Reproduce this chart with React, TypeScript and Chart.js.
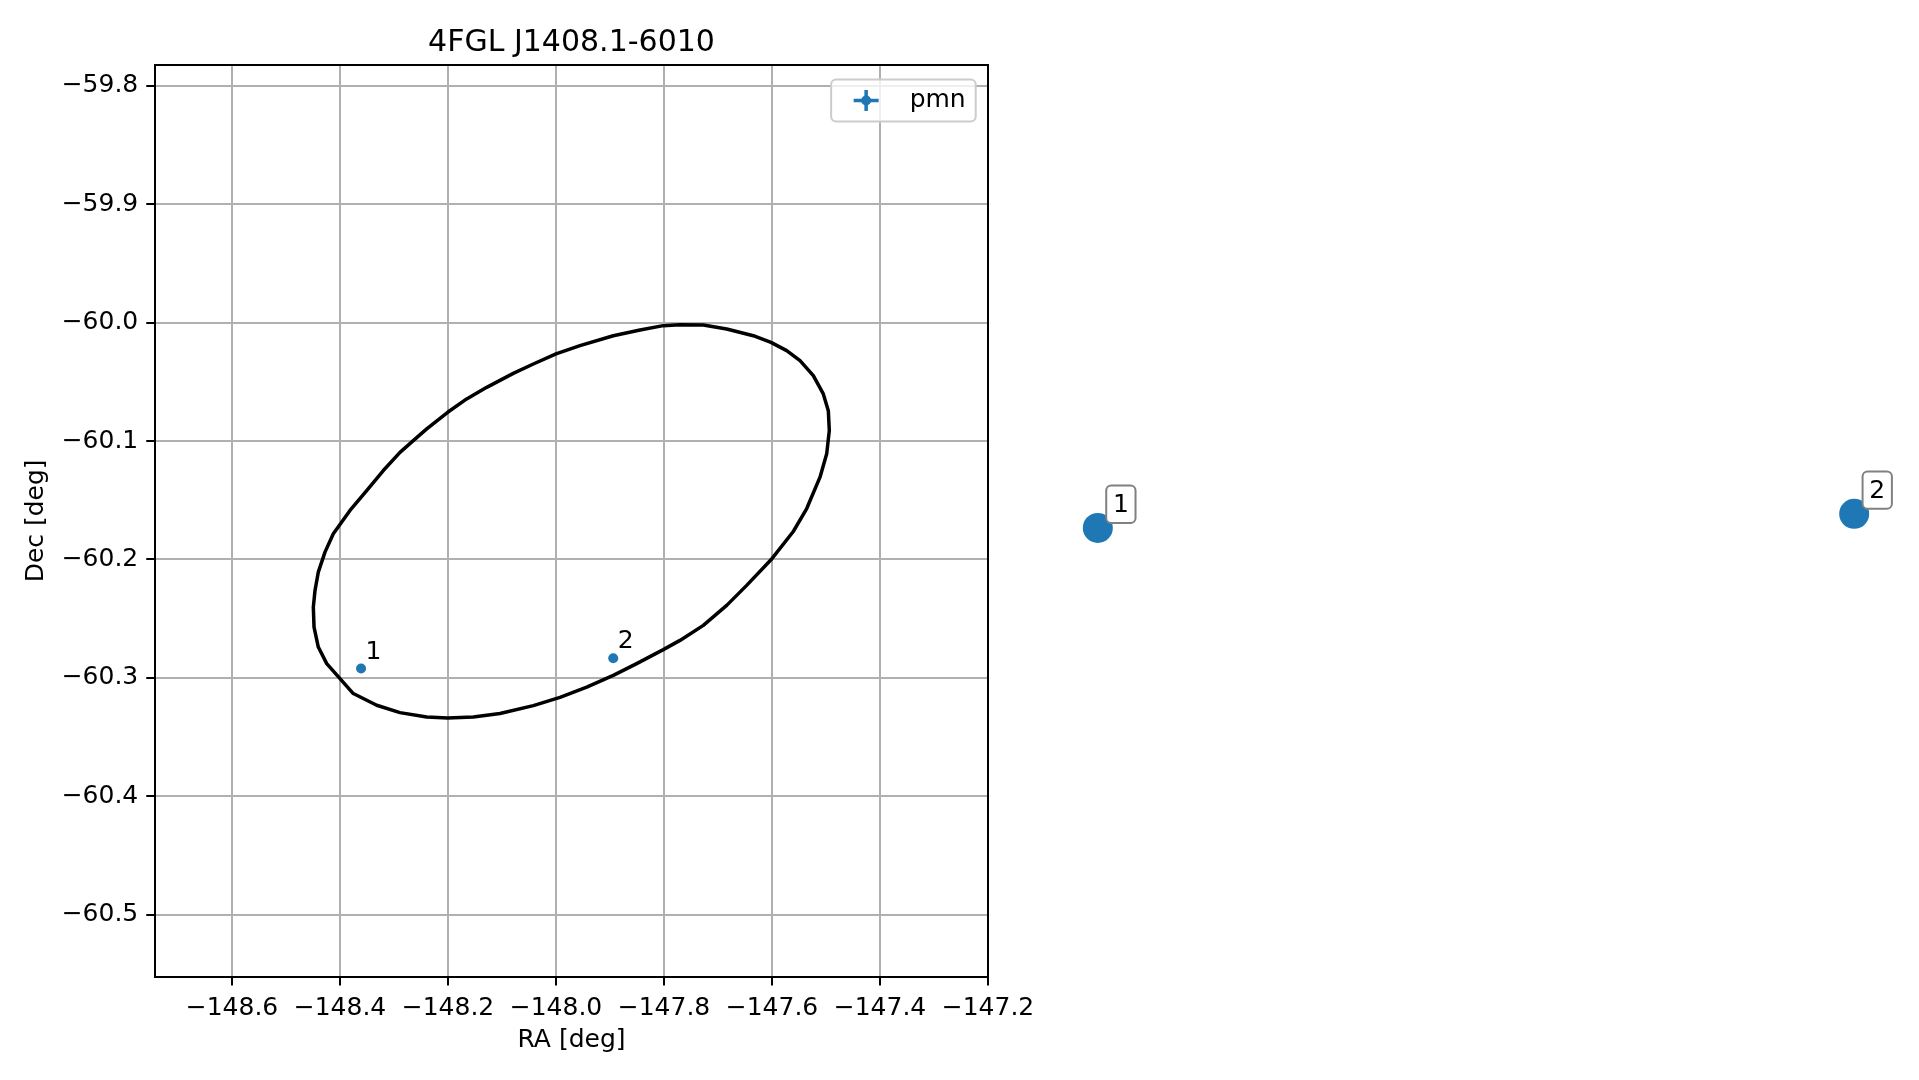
import React, { useEffect, useRef } from 'react';
import { Chart, registerables } from 'chart.js';

Chart.register(...registerables);

// ---------- data ----------
const TITLE = '4FGL J1408.1-6010';
const X_LABEL = 'RA [deg]';
const Y_LABEL = 'Dec [deg]';
const SERIES_LABEL = 'pmn';

const pmnLabels = ['1', '2'];
const pmnRA = [-148.361, -147.894];
const pmnDec = [-60.2922, -60.2835];

const ellipseRA = [
  -148.4494, -148.4463, -148.4402, -148.4278, -148.4124, -148.3815, -148.3506, -148.3198, -148.2889, -148.2643,
  -148.2394, -148.2006, -148.1654, -148.1283, -148.0791, -148.042, -148.0, -147.9556, -147.8939, -147.8444,
  -147.8013, -147.7704, -147.7272, -147.6839, -147.6346, -147.6019, -147.5728, -147.5481, -147.5235, -147.505,
  -147.4957, -147.4939, -147.4987, -147.5111, -147.5357, -147.5606, -147.6019, -147.6469, -147.6839, -147.7272,
  -147.7704, -147.8013, -147.8506, -147.8939, -147.9431, -147.9926, -148.042, -148.1037, -148.1531, -148.2006,
  -148.2394, -148.2889, -148.332, -148.3754, -148.4, -148.4246, -148.4402, -148.4481,
];
const ellipseDec = [
  -60.2403, -60.2262, -60.2107, -60.1938, -60.1783, -60.1586, -60.1418, -60.1249, -60.1095, -60.0996,
  -60.0897, -60.0757, -60.0644, -60.0546, -60.0428, -60.0349, -60.0264, -60.0194, -60.011, -60.0062,
  -60.0025, -60.0017, -60.0019, -60.0053, -60.011, -60.0166, -60.0236, -60.0321, -60.0447, -60.0602,
  -60.0743, -60.0911, -60.1108, -60.1305, -60.157, -60.1764, -60.2003, -60.2219, -60.2388, -60.2557,
  -60.2684, -60.2762, -60.288, -60.2979, -60.3078, -60.3165, -60.3235, -60.3302, -60.3331, -60.3339,
  -60.3331, -60.3294, -60.3232, -60.3133, -60.3007, -60.288, -60.274, -60.2571,
];

const xTickValues = [-148.6, -148.4, -148.2, -148.0, -147.8, -147.6, -147.4, -147.2];
const xTickLabels = ['\u2212148.6', '\u2212148.4', '\u2212148.2', '\u2212148.0', '\u2212147.8', '\u2212147.6', '\u2212147.4', '\u2212147.2'];
const yTickValues = [-59.8, -59.9, -60.0, -60.1, -60.2, -60.3, -60.4, -60.5];
const yTickLabels = ['\u221259.8', '\u221259.9', '\u221260.0', '\u221260.1', '\u221260.2', '\u221260.3', '\u221260.4', '\u221260.5'];

const X_MIN = -148.7426;
const X_MAX = -147.2;
const Y_MIN = -60.5525;
const Y_MAX = -59.7823;

// ---------- styles ----------
const FONT = "'DejaVu Sans', 'Liberation Sans', sans-serif";
const BLUE = '#1f77b4';
const GRID = '#b0b0b0';

function labelFor(values: number[], labels: string[], v: number) {
  let best = 0;
  for (let i = 1; i < values.length; i++) {
    if (Math.abs(values[i] - v) < Math.abs(values[best] - v)) best = i;
  }
  return labels[best];
}

function rrect(ctx: CanvasRenderingContext2D, x: number, y: number, w: number, h: number, r: number) {
  ctx.beginPath();
  ctx.moveTo(x + r, y);
  ctx.lineTo(x + w - r, y);
  ctx.arcTo(x + w, y, x + w, y + r, r);
  ctx.lineTo(x + w, y + h - r);
  ctx.arcTo(x + w, y + h, x + w - r, y + h, r);
  ctx.lineTo(x + r, y + h);
  ctx.arcTo(x, y + h, x, y + h - r, r);
  ctx.lineTo(x, y + r);
  ctx.arcTo(x, y, x + r, y, r);
  ctx.closePath();
}

const pointLabelPlugin = {
  id: 'pointLabels',
  afterDatasetsDraw(chart: any) {
    const ctx = chart.ctx;
    const meta = chart.getDatasetMeta(1);
    ctx.save();
    ctx.font = `25px ${FONT}`;
    ctx.fillStyle = '#000';
    ctx.textAlign = 'left';
    ctx.textBaseline = 'alphabetic';
    meta.data.forEach((el: any, i: number) => {
      ctx.fillText(pmnLabels[i], el.x + 4.4, el.y - 10);
    });
    ctx.restore();
  },
};

const mplLegendPlugin = {
  id: 'mplLegend',
  afterDatasetsDraw(chart: any) {
    const ctx = chart.ctx;
    const ca = chart.chartArea;
    const label = chart.data.datasets[1].label;
    ctx.save();
    ctx.font = `25px ${FONT}`;
    const tw = ctx.measureText(label).width;
    const w = 78.5 + tw + 10;
    const h = 42;
    const x1 = ca.right - 12.3;
    const x0 = x1 - w;
    const y0 = ca.top + 14.5;
    rrect(ctx, x0, y0, w, h, 5);
    ctx.fillStyle = 'rgba(255,255,255,0.8)';
    ctx.fill();
    ctx.strokeStyle = '#cccccc';
    ctx.lineWidth = 2;
    ctx.stroke();
    const mx = x0 + 35;
    const my = y0 + h / 2;
    ctx.strokeStyle = BLUE;
    ctx.lineWidth = 3.5;
    ctx.beginPath();
    ctx.moveTo(mx - 12.5, my);
    ctx.lineTo(mx + 12.5, my);
    ctx.moveTo(mx, my - 10.5);
    ctx.lineTo(mx, my + 10.5);
    ctx.stroke();
    ctx.fillStyle = BLUE;
    ctx.beginPath();
    ctx.arc(mx, my, 5, 0, Math.PI * 2);
    ctx.fill();
    ctx.fillStyle = '#000';
    ctx.textAlign = 'left';
    ctx.textBaseline = 'middle';
    ctx.fillText(label, x0 + 78.5, my);
    ctx.restore();
  },
};

const boxedLabelPlugin = {
  id: 'boxedLabels',
  afterDatasetsDraw(chart: any) {
    const ctx = chart.ctx;
    const meta = chart.getDatasetMeta(0);
    ctx.save();
    ctx.font = `25px ${FONT}`;
    meta.data.forEach((el: any, i: number) => {
      const txt = pmnLabels[i];
      const tw = ctx.measureText(txt).width;
      const bw = tw + 13.4;
      const bh = 37.3;
      const bx = el.x + 8.4;
      const by = el.y - 5 - bh;
      rrect(ctx, bx, by, bw, bh, 5);
      ctx.fillStyle = '#ffffff';
      ctx.fill();
      ctx.strokeStyle = '#808080';
      ctx.lineWidth = 2;
      ctx.stroke();
      ctx.fillStyle = '#000';
      ctx.textAlign = 'center';
      ctx.textBaseline = 'middle';
      ctx.fillText(txt, bx + bw / 2, by + bh / 2 + 1);
    });
    ctx.restore();
  },
};

function LeftChart() {
  const ref = useRef<HTMLCanvasElement>(null);
  useEffect(() => {
    if (!ref.current) return;
    const ellipsePts = ellipseRA.map((x, i) => ({ x, y: ellipseDec[i] }));
    ellipsePts.push({ x: ellipseRA[0], y: ellipseDec[0] });
    const pmnPts = pmnRA.map((x, i) => ({ x, y: pmnDec[i] }));
    const tickFont = { family: FONT, size: 25, lineHeight: 1 };
    const titleFont = { family: FONT, size: 25 };
    const chart = new Chart(ref.current, {
      type: 'scatter',
      data: {
        datasets: [
          {
            label: 'ellipse',
            data: ellipsePts,
            showLine: true,
            borderColor: '#000000',
            backgroundColor: '#000000',
            borderWidth: 3.5,
            pointRadius: 0,
            pointHoverRadius: 0,
            tension: 0,
            fill: false,
            borderJoinStyle: 'round',
            borderCapStyle: 'round',
          },
          {
            label: SERIES_LABEL,
            data: pmnPts,
            backgroundColor: BLUE,
            borderColor: BLUE,
            borderWidth: 0,
            pointRadius: 5,
            pointHoverRadius: 5,
          },
        ],
      } as any,
      options: {
        animation: false,
        responsive: false,
        maintainAspectRatio: false,
        events: [],
        layout: { padding: { left: 0, top: 0, right: 72, bottom: 0 } },
        plugins: {
          legend: { display: false },
          title: { display: false },
          tooltip: { enabled: false },
        },
        scales: {
          x: {
            type: 'linear',
            position: 'bottom',
            min: X_MIN,
            max: X_MAX,
            bounds: 'data',
            afterBuildTicks: (s: any) => {
              s.ticks = xTickValues.map((v) => ({ value: v }));
            },
            afterFit: (s: any) => {
              s.height = 103.3;
            },
            ticks: {
              autoSkip: false,
              maxRotation: 0,
              minRotation: 0,
              padding: 10.4,
              color: '#000',
              font: tickFont,
              callback: (v: any) => labelFor(xTickValues, xTickLabels, Number(v)),
            },
            grid: { color: GRID, lineWidth: 2, tickColor: '#000', tickWidth: 2, tickLength: 8.75, drawTicks: true },
            border: { display: true, color: '#000', width: 2 },
            title: { display: true, text: X_LABEL, color: '#000', font: titleFont, padding: { top: 0, bottom: 24.6 } },
          },
          y: {
            type: 'linear',
            position: 'left',
            min: Y_MIN,
            max: Y_MAX,
            bounds: 'data',
            afterBuildTicks: (s: any) => {
              s.ticks = yTickValues.map((v) => ({ value: v }));
            },
            afterFit: (s: any) => {
              s.width = 155;
            },
            ticks: {
              autoSkip: false,
              padding: 8,
              color: '#000',
              font: tickFont,
              callback: (v: any) => labelFor(yTickValues, yTickLabels, Number(v)),
            },
            grid: { color: GRID, lineWidth: 2, tickColor: '#000', tickWidth: 2, tickLength: 8.75, drawTicks: true },
            border: { display: true, color: '#000', width: 2 },
            title: { display: true, text: Y_LABEL, color: '#000', font: titleFont, padding: { top: 21.7, bottom: 0 } },
          },
          x2: {
            type: 'linear',
            axis: 'x',
            position: 'top',
            min: X_MIN,
            max: X_MAX,
            display: true,
            afterFit: (s: any) => {
              s.height = 65;
            },
            ticks: { display: false },
            grid: { display: false, drawTicks: false },
            border: { display: true, color: '#000', width: 2 },
            title: { display: true, text: TITLE, color: '#000', font: { family: FONT, size: 30 }, padding: { top: 25.5, bottom: 0 } },
          },
          y2: {
            type: 'linear',
            axis: 'y',
            position: 'right',
            min: Y_MIN,
            max: Y_MAX,
            display: true,
            afterFit: (s: any) => {
              s.width = 0;
            },
            ticks: { display: false },
            grid: { display: false, drawTicks: false },
            border: { display: true, color: '#000', width: 2 },
          },
        },
      } as any,
      plugins: [pointLabelPlugin, mplLegendPlugin],
    });
    return () => chart.destroy();
  }, []);
  return (
    <canvas
      ref={ref}
      width={1060}
      height={1080}
      style={{ position: 'absolute', left: 0, top: 0, width: 1060, height: 1080 }}
    />
  );
}

function RightChart() {
  const ref = useRef<HTMLCanvasElement>(null);
  useEffect(() => {
    if (!ref.current) return;
    const pts = pmnRA.map((x, i) => ({ x, y: pmnDec[i] }));
    const raMin = Math.min(...pmnRA);
    const raMax = Math.max(...pmnRA);
    const span = raMax - raMin;
    const xmin = raMin - 0.05 * span;
    const xmax = raMax + 0.05 * span;
    const areaW = 832;
    const areaH = 911.7;
    const decMid = (Math.min(...pmnDec) + Math.max(...pmnDec)) / 2;
    const yHalf = ((xmax - xmin) * areaH) / areaW / 2;
    const chart = new Chart(ref.current, {
      type: 'scatter',
      data: {
        datasets: [
          {
            label: SERIES_LABEL,
            data: pts,
            backgroundColor: BLUE,
            borderColor: BLUE,
            borderWidth: 0,
            pointRadius: 15,
            pointHoverRadius: 15,
            clip: false,
          },
        ],
      } as any,
      options: {
        animation: false,
        responsive: false,
        maintainAspectRatio: false,
        events: [],
        layout: { padding: { left: 72, top: 65, right: 27, bottom: 103.3 } },
        plugins: {
          legend: { display: false },
          title: { display: false },
          tooltip: { enabled: false },
        },
        scales: {
          x: { type: 'linear', display: false, min: xmin, max: xmax },
          y: { type: 'linear', display: false, min: decMid - yHalf, max: decMid + yHalf },
        },
      } as any,
      plugins: [boxedLabelPlugin],
    });
    return () => chart.destroy();
  }, []);
  return (
    <canvas
      ref={ref}
      width={931}
      height={1080}
      style={{ position: 'absolute', left: 988, top: 0, width: 931, height: 1080 }}
    />
  );
}

export default function App() {
  return (
    <div style={{ position: 'absolute', left: 0, top: 0, width: 1919, height: 1080, background: '#fff', overflow: 'hidden' }}>
      <LeftChart />
      <RightChart />
    </div>
  );
}
